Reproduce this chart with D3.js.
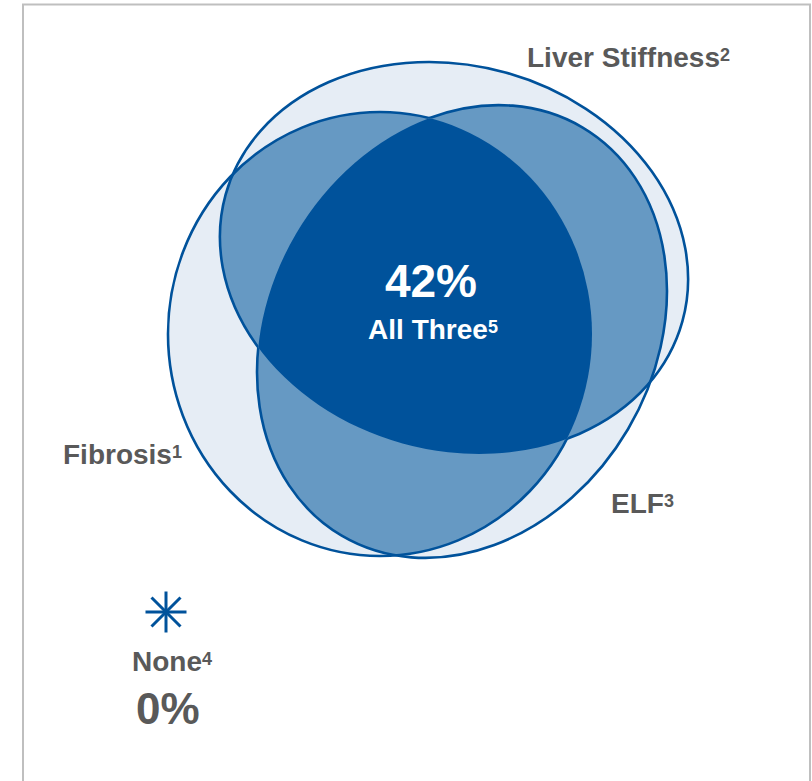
<!DOCTYPE html>
<html>
<head>
<meta charset="utf-8">
<script src="https://cdn.jsdelivr.net/npm/d3@7"></script>
<style>
  html, body { margin: 0; padding: 0; background: #ffffff; }
  svg { display: block; }
  text { font-family: "Liberation Sans", Arial, sans-serif; font-weight: bold; }
</style>
</head>
<body>
<script>
// ---- data ----
const setNames = ["Fibrosis", "Liver Stiffness", "ELF"];
const setNotes = ["1", "2", "3"];
const centerShare = 42;          // percent in all three sets
const centerName = "All Three";
const centerNote = "5";
const noneShare = 0;             // percent in none of the sets
const noneName = "None";
const noneNote = "4";

// ---- layout (pixels) ----
const W = 812, H = 781;
const ellipseLayout = [
  { cx: 380, cy: 334, rx: 212, ry: 222, rot: 0 },        // Fibrosis
  { cx: 454, cy: 258, rx: 237, ry: 192.5, rot: 15.5 },   // Liver Stiffness
  { cx: 462, cy: 331.5, rx: 237, ry: 192.6, rot: -59.5 } // ELF
];
const labelLayout = [
  { x: 63, y: 464 },
  { x: 527, y: 67 },
  { x: 611, y: 513 }
];

const BLUE = "#00529b";
const GREY = "#595959";
// fill by how many sets overlap at a region
const depthColor = d3.scaleOrdinal()
  .domain([1, 2, 3])
  .range(["#e6edf5", "#6699c3", BLUE]);

const svg = d3.select("body").append("svg")
  .attr("width", W).attr("height", H);

// frame
svg.append("rect")
  .attr("x", 23).attr("y", 4.5)
  .attr("width", 787).attr("height", 820)
  .attr("fill", "none").attr("stroke", "#bfbfbf").attr("stroke-width", 2);

const defs = svg.append("defs");

function addEllipse(sel, e) {
  return sel.append("ellipse")
    .attr("cx", 0).attr("cy", 0)
    .attr("rx", e.rx).attr("ry", e.ry)
    .attr("transform", `translate(${e.cx},${e.cy}) rotate(${e.rot})`);
}

// one clip path per set
ellipseLayout.forEach((e, i) => {
  addEllipse(defs.append("clipPath").attr("id", `set-clip-${i}`), e);
});

const venn = svg.append("g");

// single-set fills
ellipseLayout.forEach(e => {
  addEllipse(venn, e).attr("fill", depthColor(1));
});

// pairwise overlaps
for (let i = 0; i < 3; i++) {
  for (let j = i + 1; j < 3; j++) {
    const g = venn.append("g").attr("clip-path", `url(#set-clip-${i})`);
    addEllipse(g, ellipseLayout[j]).attr("fill", depthColor(2));
  }
}

// triple overlap
{
  const g0 = venn.append("g").attr("clip-path", `url(#set-clip-0)`);
  const g1 = g0.append("g").attr("clip-path", `url(#set-clip-1)`);
  addEllipse(g1, ellipseLayout[2]).attr("fill", depthColor(3));
}

// outlines, hidden where the other two sets overlap
ellipseLayout.forEach((e, i) => {
  const others = [0, 1, 2].filter(k => k !== i);
  const mask = defs.append("mask").attr("id", `outline-mask-${i}`)
    .attr("maskUnits", "userSpaceOnUse")
    .attr("x", 0).attr("y", 0).attr("width", W).attr("height", H);
  mask.append("rect").attr("x", 0).attr("y", 0)
    .attr("width", W).attr("height", H).attr("fill", "white");
  const mg = mask.append("g").attr("clip-path", `url(#set-clip-${others[0]})`);
  addEllipse(mg, ellipseLayout[others[1]]).attr("fill", "black");

  const g = venn.append("g").attr("mask", `url(#outline-mask-${i})`);
  addEllipse(g, e).attr("fill", "none")
    .attr("stroke", BLUE).attr("stroke-width", 2.6);
});

// set labels with note markers
function labelWithNote(sel, x, y, name, note, size, noteSize, color, anchor) {
  const t = sel.append("text")
    .attr("x", x).attr("y", y)
    .attr("fill", color)
    .attr("font-size", size)
    .attr("text-anchor", anchor || "start");
  t.append("tspan").text(name);
  t.append("tspan").attr("font-size", noteSize).attr("dy", -6).text(note);
  return t;
}

setNames.forEach((name, i) => {
  labelWithNote(svg, labelLayout[i].x, labelLayout[i].y, name, setNotes[i], 28, 18, GREY);
});

// centre value
svg.append("text")
  .attr("x", 431).attr("y", 297)
  .attr("text-anchor", "middle")
  .attr("fill", "#ffffff")
  .attr("font-size", 46)
  .text(`${centerShare}%`);
labelWithNote(svg, 433, 339, centerName, centerNote, 28, 18, "#ffffff", "middle");

// "none" marker
const star = svg.append("g").attr("transform", "translate(166,612)");
[0, 45, 90, 135].forEach(a => {
  const r = 20.5, rad = a * Math.PI / 180;
  star.append("line")
    .attr("x1", -r * Math.cos(rad)).attr("y1", -r * Math.sin(rad))
    .attr("x2", r * Math.cos(rad)).attr("y2", r * Math.sin(rad))
    .attr("stroke", BLUE).attr("stroke-width", 3);
});
labelWithNote(svg, 132, 671, noneName, noneNote, 28, 18, GREY);
svg.append("text")
  .attr("x", 136).attr("y", 724)
  .attr("fill", GREY)
  .attr("font-size", 44)
  .text(`${noneShare}%`);
</script>
</body>
</html>
